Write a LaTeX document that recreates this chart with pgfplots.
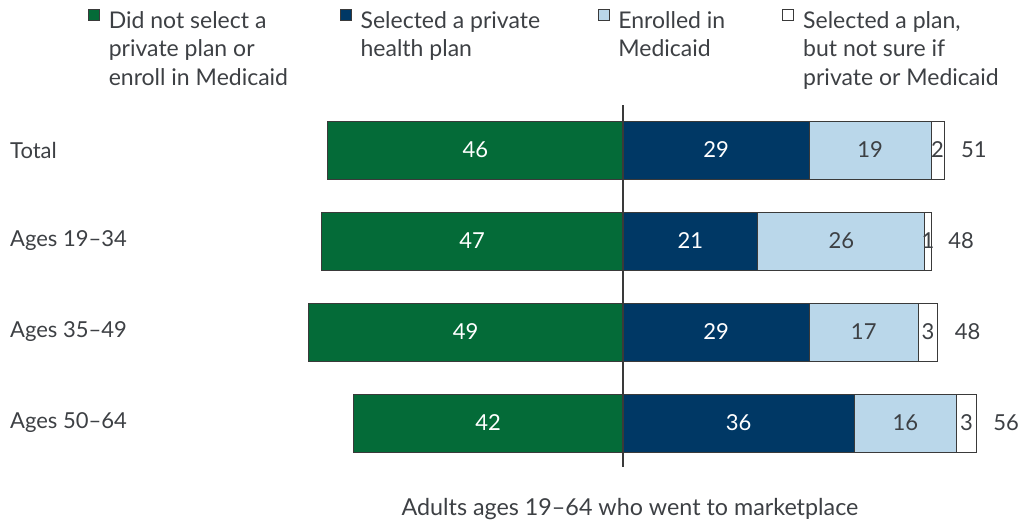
\documentclass[border=0pt]{standalone}
\usepackage{pgfplots}
\pgfplotsset{compat=1.18}
\usepackage{pgfplotstable}
\usepackage{fontspec}
\setmainfont{Lato}
\definecolor{cgreen}{HTML}{046B38}
\definecolor{cnavy}{HTML}{003865}
\definecolor{clight}{HTML}{BAD7EA}
\definecolor{ctext}{HTML}{3D4044}
\definecolor{cedge}{HTML}{3A3A3A}

\pgfplotstableread{
pos g n m w tot
3 46 29 19 2 51
2 47 21 26 1 48
1 49 29 17 3 48
0 42 36 16 3 56
}\data

\pgfplotsset{
  base/.style={
    x=6.42pt, y=91pt,
    xmin=-97.04, xmax=62, ymin=-0.5, ymax=3.5,
    enlargelimits=false,
    at={(623pt,-423pt)}, anchor=origin,
    clip=false,
    /pgf/number format/assume math mode=true,
  },
  barst/.style={draw=cedge, line width=0.8pt},
  lbl/.style={draw=none, mark=none, forget plot,
    point meta=explicit, nodes near coords,
    every node near coord/.append style={anchor=center, inner sep=0pt}},
}

\begin{document}
\fontsize{22}{28.5}\selectfont\color{ctext}
\begin{tikzpicture}
\useasboundingbox (0,0) rectangle (1021pt,-523pt);
\begin{axis}[base, hide axis, xbar stacked, bar width=58pt]
\addplot[barst, fill=cnavy] table[x=n, y=pos]{\data};
\addplot[barst, fill=clight] table[x=m, y=pos]{\data};
\addplot[barst, fill=white] table[x=w, y=pos]{\data};
\end{axis}
\begin{axis}[base,
  axis line style={draw=none}, major tick length=0pt,
  xtick=\empty, ytick={0,1,2,3},
  yticklabels={Ages 50–64, Ages 35–49, Ages 19–34, Total},
  yticklabel style={anchor=west, inner sep=0pt, xshift=10pt},
  xlabel={Adults ages 19–64 who went to marketplace},
  xlabel style={at={(axis description cs:0.617,-0.112)}, anchor=center, inner sep=0pt,
    font=\fontsize{23.3}{28.5}\selectfont},
  legend image code/.code={\pgfsetbaseline{0pt}\draw[#1] (0pt,1pt) rectangle (11pt,12pt);},
  legend columns=4,
  legend style={draw=none, fill=none, inner sep=0pt, outer sep=0pt,
    at={(axis description cs:0.0862,1.2625)}, anchor=north west,
    font=\fontsize{23}{28.5}\selectfont,
    nodes={inner sep=0pt, outer sep=0pt},
    /tikz/every odd column/.style={column sep=9pt},
    /tikz/every even column/.style={column sep=0pt}},
]
\addplot[barst, fill=cgreen, xbar, bar width=58pt, bar shift=0pt, forget plot]
  table[x expr=-\thisrow{g}, y=pos]{\data};
\addplot[draw=cedge, line width=2.2pt, forget plot] coordinates {(0,-0.48) (0,3.5)};
\addlegendimage{barst, fill=cgreen}
\addlegendentry{\parbox[t]{231pt}{Did not select a\\private plan or\\enroll in Medicaid}}
\addlegendimage{barst, fill=cnavy}
\addlegendentry{\parbox[t]{237pt}{Selected a private\\health plan}}
\addlegendimage{barst, fill=clight}
\addlegendentry{\parbox[t]{164pt}{Enrolled in\\Medicaid}}
\addlegendimage{barst, fill=white}
\addlegendentry{\parbox[t]{215pt}{Selected a plan,\\but not sure if\\private or Medicaid}}
\addplot[lbl, every node near coord/.append style={text=white}]
  table[x expr=-\thisrow{g}/2, y=pos, meta=g]{\data};
\addplot[lbl, every node near coord/.append style={text=white}]
  table[x expr=\thisrow{n}/2, y=pos, meta=n]{\data};
\addplot[lbl] table[x expr=\thisrow{n}+\thisrow{m}/2, y=pos, meta=m]{\data};
\addplot[lbl] table[x expr=\thisrow{n}+\thisrow{m}+\thisrow{w}/2, y=pos, meta=w]{\data};
\addplot[lbl, every node near coord/.append style={anchor=west, xshift=17pt}]
  table[x expr=\thisrow{n}+\thisrow{m}+\thisrow{w}, y=pos, meta=tot]{\data};
\end{axis}
\end{tikzpicture}
\end{document}
